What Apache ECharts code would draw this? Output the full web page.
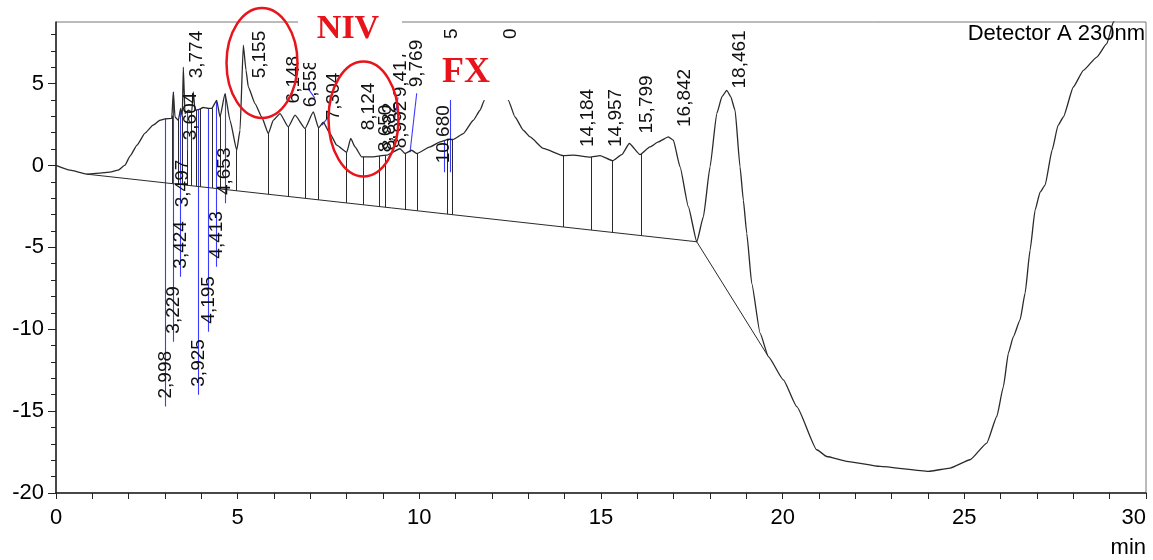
<!DOCTYPE html>
<html>
<head>
<meta charset="utf-8">
<script src="https://cdn.jsdelivr.net/npm/echarts@6/dist/echarts.min.js"></script>
<style>
html, body { margin: 0; padding: 0; background: #fff; }
#main { width: 1153px; height: 560px; }
</style>
</head>
<body>
<div id="main"></div>
<script>
// trace of Detector A 230nm (time in min, signal)
var traceTime = [0, 0.385, 0.845, 1.211, 1.486, 1.707, 1.899, 2.037, 2.23, 2.45,
	2.67, 2.862, 2.999, 3.185, 3.229, 3.275, 3.366, 3.432, 3.476, 3.504,
	3.55, 3.642, 3.735, 3.779, 3.826, 3.917, 4.054, 4.192, 4.286, 4.423,
	4.514, 4.652, 4.789, 4.974, 5.065, 5.155, 5.23, 5.293, 5.478, 5.662,
	5.844, 5.981, 6.166, 6.394, 6.579, 6.854, 7.082, 7.225, 7.357, 7.542,
	7.726, 8.002, 8.112, 8.23, 8.415, 8.643, 9.103, 9.469, 9.606, 9.791,
	9.929, 10.295, 10.57, 10.798, 10.936, 11.211, 11.486, 11.671, 11.789, 11.946,
	12.084, 12.221, 12.45, 12.634, 12.863, 13.047, 13.413, 13.964, 14.239, 14.699,
	14.974, 15.318, 15.571, 15.78, 16.075, 16.347, 16.579, 16.854, 16.991, 17.176,
	17.404, 17.636, 17.818, 18.001, 18.186, 18.33, 18.461, 18.57, 18.69, 18.827,
	18.918, 19.012, 19.149, 19.378, 19.606, 20.019, 20.388, 20.939, 21.214, 21.764,
	22.68, 24.01, 24.608, 25.158, 25.618, 25.893, 26.075, 26.212, 26.35, 26.534,
	26.672, 26.81, 26.947, 27.085, 27.223, 27.415, 27.58, 27.726, 28.0, 28.277,
	28.646, 28.921, 29.103, 29.232]
var traceSignal = [0, -0.29, -0.53, -0.47, -0.41, -0.29, 0.02, 0.57, 1.24, 1.97,
	2.46, 2.76, 2.85, 2.87, 4.49, 2.96, 2.76, 3.48, 2.96, 6.01,
	3.17, 3.37, 3.27, 4.49, 3.37, 3.41, 3.54, 3.48, 3.48, 3.98,
	2.96, 4.39, 2.76, 0.93, 2.15, 7.34, 5.81, 4.79, 3.78, 2.96,
	1.95, 2.76, 3.17, 2.35, 3.07, 2.26, 3.27, 2.30, 2.64, 1.95,
	1.24, 0.81, 1.65, 1.13, 0.52, 0.52, 0.63, 1.02, 0.73, 0.93,
	0.73, 1.13, 1.44, 1.59, 1.59, 1.95, 2.76, 3.37, 3.98, 6.42,
	7.34, 6.42, 3.98, 2.96, 2.15, 1.74, 1.04, 0.60, 0.63, 0.51,
	0.60, 0.29, 0.66, 1.34, 0.66, 1.13, 1.44, 1.74, 1.54, -0.09,
	-2.52, -4.66, -3.13, -0.09, 3.17, 4.2, 4.59, 4.2, 3.37, -0.09,
	-2.12, -4.15, -7.20, -10.24, -11.67, -13.09, -14.72, -17.36, -17.77, -18.07,
	-18.38, -18.68, -18.48, -17.97, -16.95, -15.33, -13.50, -11.46, -10.45, -9.43,
	-7.80, -5.16, -2.73, -1.63, -1.20, 0.93, 2.45, 2.96, 4.79, 5.81,
	6.62, 7.44, 8.76, 9.47]

// integration baseline
var baseTime = [0.845, 17.636, 19.606]
var baseSignal = [-0.53, -4.66, -11.67]

// peak borders (drop lines to the baseline)
var dropTimes = [3.0, 3.19, 3.36, 3.47, 3.6, 3.73, 3.87, 3.98, 4.29, 4.51, 4.974, 5.844,
	6.394, 6.854, 7.225, 8.002, 8.458, 8.899, 9.056, 9.606, 9.929, 10.771, 10.919,
	13.964, 14.726, 15.323, 16.103]

// labelled retention times
var peakTimes = [2.998, 3.229, 3.424, 3.497, 3.604, 3.774, 3.925, 4.195, 4.413, 4.653,
	5.155, 6.148, 6.558, 7.304, 8.124, 8.65, 8.882, 8.992, 9.417, 9.769, 10.68,
	14.184, 14.957, 15.799, 16.842, 18.461]

// label placement: [x shift px, text foot (signal), blue marker end (signal) or null]
var labelLayout = [
	[1, -14.23, -14.72], [0, -10.27, -10.76], [0, -6.3, -6.79], [0, -2.55, null],
	[4, 1.54, 0.93], [4, 5.32, null], [0, -13.51, -14.0], [0, -9.66, -10.15],
	[0, -5.69, -6.18], [0, -1.81, -2.3],
	[16, 5.32, null], [14, 3.79, null], [16, 3.55, null], [12, 2.76, null],
	[18, 2.15, null], [15, 0.81, null], [11, 0.93, null], [18, 1.05, null],
	[3, 4.16, null], [6, 4.77, null], [0, 0.13, -0.41],
	[16, 1.13, null], [16, 1.13, null], [17, 1.95, null], [17, 2.35, null], [13, 4.7, null]
]
// blue leader segments from labels to peaks
var leaders = [
	[[6.936, 4.71], [7.129, 4.1]],
	[[7.322, 2.46], [7.487, 2.94]],
	[[9.414, 4.16], [9.304, 2.64]],
	[[9.928, 4.41], [9.744, 0.81]],
	[[10.845, 5.2], [10.845, -0.41]]
]

function interp(xs, ys, t) {
	for (var i = 1; i < xs.length; i++) {
		if (t <= xs[i]) {
			var k = (t - xs[i - 1]) / (xs[i] - xs[i - 1])
			return ys[i - 1] + k * (ys[i] - ys[i - 1])
		}
	}
	return ys[ys.length - 1]
}
function fmt(t) {
	return t.toFixed(3).replace('.', ',')
}

var FONT = 'Liberation Sans, Arial, sans-serif'
var yMajor = [-20, -15, -10, -5, 0, 5]
var yMinor = []
for (var v = -20; v <= 8; v++) yMinor.push(v)

var traceData = traceTime.map(function (t, i) { return [t, traceSignal[i]] })
var baseData = baseTime.map(function (t, i) { return [t, baseSignal[i]] })
var dropData = dropTimes.map(function (t) {
	return { coords: [[t, interp(traceTime, traceSignal, t)], [t, interp(baseTime, baseSignal, t)]] }
})
var blueData = []
peakTimes.forEach(function (t, i) {
	if (labelLayout[i][2] !== null) {
		blueData.push({ coords: [[t, interp(traceTime, traceSignal, t)], [t, labelLayout[i][2]]] })
	}
})
leaders.forEach(function (l) { blueData.push({ coords: l }) })

var myChart = echarts.init(document.getElementById('main'))

var option = {
	animation: false,
	backgroundColor: '#fff',
	grid: {
		left: 56, right: 7, top: 22, bottom: 67,
		show: true, borderColor: '#777', borderWidth: 1
	},
	xAxis: {
		type: 'value', min: 0, max: 30, interval: 5,
		axisLine: { show: true, onZero: false, lineStyle: { color: '#222', width: 1.5 } },
		axisTick: { show: true, length: 6, lineStyle: { color: '#222' } },
		minorTick: { show: true, splitNumber: 5, length: 6, lineStyle: { color: '#222' } },
		axisLabel: { fontSize: 22, color: '#000', fontFamily: FONT, margin: 14, alignMaxLabel: 'right' },
		splitLine: { show: false }
	},
	yAxis: [
		{
			type: 'value', min: -20, max: 8.76, interval: 5,
			axisLine: { show: true, onZero: false, lineStyle: { color: '#222', width: 1.5 } },
			axisTick: { show: true, length: 8, customValues: yMajor, lineStyle: { color: '#222' } },
			axisLabel: { fontSize: 22, color: '#000', fontFamily: FONT, margin: 12, customValues: yMajor },
			splitLine: { show: false }
		},
		{
			type: 'value', min: -20, max: 8.76, interval: 1, position: 'left',
			axisLine: { show: false },
			axisTick: { show: true, length: 5, customValues: yMinor, lineStyle: { color: '#222' } },
			axisLabel: { show: false },
			splitLine: { show: false }
		}
	],
	series: [
		{
			type: 'line', name: 'trace', data: traceData,
			showSymbol: false, smooth: 0.15, smoothMonotone: 'x', clip: true,
			lineStyle: { color: '#2a2a2a', width: 1.3 }, z: 3
		},
		{
			type: 'line', name: 'baseline', data: baseData,
			showSymbol: false, lineStyle: { color: '#2a2a2a', width: 1 }, z: 2
		},
		{
			type: 'lines', coordinateSystem: 'cartesian2d', data: dropData, silent: true,
			lineStyle: { color: '#2a2a2a', width: 1, opacity: 1 }, z: 2
		},
		{
			type: 'lines', coordinateSystem: 'cartesian2d', data: blueData, silent: true,
			lineStyle: { color: '#3b3bff', width: 1.1, opacity: 1 }, z: 2
		},
		{
			type: 'custom', name: 'labels', silent: true, z: 4,
			data: peakTimes.map(function (t, i) { return [t, labelLayout[i][1]] }),
			encode: { x: 0, y: 1 },
			renderItem: function (params, api) {
				var i = params.dataIndex
				var p = api.coord([api.value(0), api.value(1)])
				return {
					type: 'text',
					x: p[0] + labelLayout[i][0],
					y: p[1],
					rotation: Math.PI / 2,
					style: {
						text: fmt(peakTimes[i]), fontSize: 19, fontFamily: FONT,
						fill: '#111', align: 'left', verticalAlign: 'middle'
					}
				}
			}
		}
	],
	graphic: [
		// white patches pasted over the figure
		{ type: 'rect', z: 100, shape: { x: 298, y: 0, width: 104, height: 63 }, style: { fill: '#fff' } },
		{ type: 'rect', z: 100, shape: { x: 432, y: 40, width: 90, height: 60 }, style: { fill: '#fff' } },
		{ type: 'text', z: 101, x: 348, y: 29, style: { text: 'NIV', fill: '#e8141b', fontSize: 34, fontWeight: 'bold', fontFamily: 'Liberation Serif, Times New Roman, serif', align: 'center', verticalAlign: 'middle' } },
		{ type: 'text', z: 101, x: 466, y: 73, style: { text: 'FX', fill: '#e8141b', fontSize: 36, fontWeight: 'bold', fontFamily: 'Liberation Serif, Times New Roman, serif', align: 'center', verticalAlign: 'middle' } },
		{ type: 'ellipse', z: 102, shape: { cx: 262, cy: 63, rx: 35.5, ry: 55 }, style: { fill: null, stroke: '#e8141b', lineWidth: 2.5 } },
		{ type: 'ellipse', z: 102, shape: { cx: 363.5, cy: 119, rx: 35, ry: 57.5 }, style: { fill: null, stroke: '#e8141b', lineWidth: 2.5 } },
		// visible tails of labels under the FX patch
		{ type: 'text', z: 101, x: 452, y: 39, rotation: Math.PI / 2, style: { text: '5', fill: '#111', fontSize: 19, fontFamily: FONT, align: 'left', verticalAlign: 'middle' } },
		{ type: 'text', z: 101, x: 511, y: 39, rotation: Math.PI / 2, style: { text: '0', fill: '#111', fontSize: 19, fontFamily: FONT, align: 'left', verticalAlign: 'middle' } },
		{ type: 'text', z: 101, x: 1145, y: 34, style: { text: 'Detector A 230nm', fill: '#000', fontSize: 22, fontFamily: FONT, align: 'right', verticalAlign: 'middle' } },
		{ type: 'text', z: 101, x: 1146, y: 548, style: { text: 'min', fill: '#000', fontSize: 22, fontFamily: FONT, align: 'right', verticalAlign: 'middle' } }
	]
}
myChart.setOption(option)
</script>
</body>
</html>
